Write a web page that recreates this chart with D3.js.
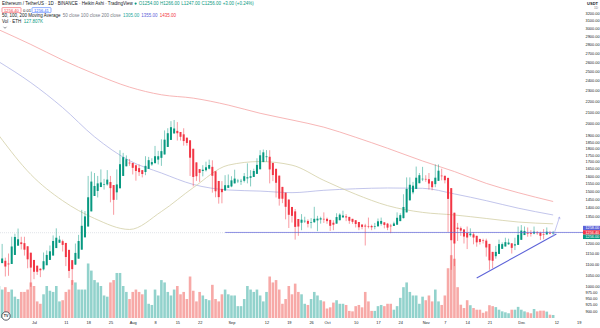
<!DOCTYPE html>
<html>
<head>
<meta charset="utf-8">
<script src="https://cdn.jsdelivr.net/npm/d3@7"></script>
<style>
  html, body { margin: 0; padding: 0; background: #ffffff; }
  svg { display: block; font-family: "Liberation Sans", Arial, sans-serif; }
</style>
</head>
<body>
<svg id="chart" width="600" height="328"></svg>
<script>
// ETH/USDT daily Heikin Ashi bars, 2022-06-20 .. 2022-12-11
const firstDay = "2022-06-20";
const lastDay = "2022-12-11";

const haOpen = [
  1081,1104,1115,1102,1100,1143,1189,1206,1202,1186,1154,
  1119,1092,1078,1075,1094,1119,1140,1177,1204,1212,1203,1168,1118,1097,1125,1169,1232,1290,1376,1469,1501,1526,1541,1543,1559,1539,1492,1518,1600,1667,1693,
  1691,1674,1654,1640,1627,1649,1680,1689,1715,1728,1753,1810,1865,1917,1938,1929,1910,1883,1862,1796,1695,1647,1634,1639,1650,1663,1632,1566,1514,1504,1521,
  1530,1550,1566,1567,1567,1583,1587,1593,1614,1646,1697,1733,1736,1691,1649,1602,1527,1490,1447,1402,1376,1332,1311,1320,1321,1313,1314,1324,1329,1333,
  1333,1327,1311,1306,1325,1341,1347,1344,1333,1325,1315,1301,1295,1293,1293,1290,1291,1305,1313,1306,1295,1293,1300,1320,1337,1370,1442,1492,1514,1551,1578,
  1580,1578,1564,1545,1567,1602,1601,1586,1519,1368,1284,1281,1274,1255,1243,1248,1240,1223,1216,1215,1198,1158,1137,1148,1173,1185,1196,1201,1190,1193,
  1219,1244,1255,1254,1252,1257,1256,1248,1247,1255,1254
];
const haHigh = [
  1160,1198,1130,1150,1235,1251,1279,1235,1235,1186,1154,
  1119,1092,1080,1155,1165,1190,1242,1280,1240,1220,1203,1168,1118,1200,1245,1385,1378,1600,1630,1620,1600,1645,1580,1640,1600,1539,1645,1785,1765,1746,1720,
  1691,1680,1680,1640,1740,1735,1725,1818,1780,1870,1942,1960,2020,2030,2012,1929,1960,1883,1862,1796,1695,1647,1675,1700,1715,1710,1632,1566,1565,1605,1610,
  1598,1643,1580,1580,1620,1688,1640,1650,1725,1785,1790,1786,1785,1691,1650,1602,1527,1490,1447,1402,1390,1332,1360,1345,1330,1337,1403,1350,1345,1370,
  1340,1327,1325,1365,1365,1380,1360,1344,1333,1325,1315,1301,1305,1340,1300,1310,1335,1340,1315,1310,1305,1317,1370,1365,1480,1590,1590,1560,1665,1620,1663,
  1605,1620,1564,1680,1680,1650,1601,1590,1519,1368,1310,1290,1274,1290,1280,1260,1240,1225,1225,1225,1198,1158,1188,1220,1206,1230,1225,1201,1230,1290,
  1298,1290,1285,1270,1290,1266,1262,1276,1285,1266,1266
];
const haLow = [
  1075,1104,1043,1046,1100,1143,1189,1170,1140,1080,998,
  1031,1050,1040,1070,1094,1119,1140,1177,1204,1160,1090,1036,1006,1095,1125,1169,1232,1290,1376,1469,1460,1526,1510,1535,1430,1356,1445,1518,1600,1667,1670,
  1610,1568,1600,1590,1605,1649,1670,1689,1680,1670,1753,1810,1865,1917,1860,1860,1820,1820,1600,1530,1566,1560,1597,1630,1645,1490,1461,1422,1424,1500,1520,
  1525,1550,1552,1540,1556,1550,1530,1593,1614,1646,1697,1700,1550,1565,1460,1410,1425,1330,1282,1312,1220,1240,1270,1310,1285,1280,1310,1265,1306,1310,
  1305,1266,1270,1306,1325,1340,1320,1305,1305,1285,1270,1275,1190,1280,1270,1275,1291,1295,1280,1270,1254,1293,1300,1320,1335,1370,1442,1480,1514,1551,1565,
  1560,1510,1505,1525,1567,1570,1550,1261,1073,1090,1213,1240,1200,1172,1235,1196,1184,1195,1200,1135,1073,1080,1125,1148,1173,1185,1193,1150,1167,1193,
  1219,1244,1235,1236,1248,1245,1218,1222,1247,1248,1247
];
const haClose = [
  1126,1126,1088,1098,1185,1234,1222,1197,1169,1122,1083,
  1064,1064,1071,1113,1143,1161,1213,1230,1220,1193,1133,1068,1076,1153,1213,1294,1347,1461,1562,1533,1550,1556,1544,1575,1519,1445,1543,1682,1733,1718,1688,
  1656,1634,1626,1613,1670,1711,1697,1740,1740,1778,1867,1919,1969,1958,1919,1890,1856,1841,1729,1593,1598,1621,1643,1660,1676,1601,1499,1462,1493,1538,1538,
  1570,1582,1568,1567,1598,1591,1598,1634,1677,1747,1769,1739,1645,1606,1554,1452,1452,1403,1356,1350,1288,1290,1328,1322,1305,1315,1333,1334,1336,1332,
  1320,1294,1300,1343,1357,1352,1341,1322,1316,1304,1286,1288,1290,1292,1286,1291,1319,1321,1299,1284,1291,1307,1339,1354,1402,1514,1541,1535,1588,1605,1581,
  1576,1549,1525,1588,1636,1600,1571,1451,1217,1200,1277,1268,1236,1231,1252,1231,1206,1208,1214,1180,1117,1115,1158,1197,1197,1207,1205,1178,1196,1245,
  1268,1266,1252,1250,1262,1254,1240,1246,1262,1253,1256
];
// daily volume, thousands of ETH
const volume = [
  1350,1200,1300,1100,1200,900,800,1100,1100,1200,1500,
  1350,700,600,1000,1350,1150,1100,1350,700,750,1100,1200,1600,1500,1200,1200,1200,2300,2000,1600,1500,1350,950,900,1500,1600,1900,1900,1350,1100,800,
  1100,1200,1100,1000,1200,600,550,1200,950,1600,1500,1100,950,1200,1350,1000,1100,800,1750,1150,700,1100,950,800,750,1400,800,700,1000,1200,1000,
  950,950,500,500,800,1350,1200,1100,1200,950,700,1100,1750,1500,1600,1200,600,800,1350,1000,1450,1100,1000,600,550,800,1100,950,750,700,
  400,450,650,750,600,600,550,300,280,500,550,450,1100,700,300,300,500,550,500,600,600,350,500,850,1300,1500,1100,950,950,600,900,
  750,950,700,1200,700,550,950,2100,2650,2500,1300,560,420,750,540,420,350,350,220,280,540,500,460,350,280,240,200,350,350,470,
  350,280,240,200,380,280,310,310,270,140,127.807
];

// 50 / 100 / 200 day moving averages, sampled
const maDates = ["2022-06-20","2022-06-30","2022-07-10","2022-07-20","2022-07-31","2022-08-10","2022-08-20","2022-08-31","2022-09-10",
                 "2022-09-20","2022-09-30","2022-10-10","2022-10-20","2022-10-31","2022-11-10","2022-11-20","2022-11-30","2022-12-11"];
const ma50  = [1900,1610,1440,1335,1274,1375,1522,1675,1701,1675,1570,1480,1410,1370,1355,1335,1315,1305];
const ma100 = [2600,2380,2140,1890,1707,1620,1543,1507,1500,1490,1505,1515,1520,1518,1482,1440,1395,1355];
const ma200 = [2980,2800,2620,2470,2335,2260,2228,2163,2089,2030,1969,1886,1800,1705,1630,1550,1490,1435];

// drawings: horizontal ray, rising support line, projection arrow
const rayStart = "2022-08-30", rayPrice = 1258;
const supportLine = [["2022-11-17", 1036], ["2022-12-12", 1250]];
const projection = [["2022-12-11", 1236], ["2022-12-13", 1343]];
const lastTradePrice = 1256.4;

const priceTicks = [3200,3100,3000,2900,2800,2700,2600,2500,2400,2300,2200,2100,2000,1900,1850,1800,1750,1700,1650,1600,
                    1550,1500,1450,1400,1350,1300,1250,1200,1150,1100,1050,1000,975,950,925,900];
const timeTicks = [["2022-07-01","Jul"],["2022-07-11","11"],["2022-07-18","18"],["2022-07-25","25"],["2022-08-01","Aug"],
                   ["2022-08-08","8"],["2022-08-15","15"],["2022-08-22","22"],["2022-09-01","Sep"],["2022-09-12","12"],
                   ["2022-09-19","19"],["2022-09-26","26"],["2022-10-01","Oct"],["2022-10-10","10"],["2022-10-17","17"],
                   ["2022-10-24","24"],["2022-11-01","Nov"],["2022-11-07","7"],["2022-11-14","14"],["2022-11-21","21"],
                   ["2022-12-01","Dec"],["2022-12-12","12"],["2022-12-19","19"]];

// ---------- layout ----------
const W = 600, H = 328;
const plotR = 583, plotB = 318;
const UP = "#089981", DOWN = "#f23645";
const UPV = "#92d2cc", DOWNV = "#f7a9a7";
const DRAW = "#5d63d8";
const parse = d3.utcParse("%Y-%m-%d");
const dayMs = 864e5;

const days = d3.utcDay.range(parse(firstDay), d3.utcDay.offset(parse(lastDay), 1));
const bars = days.map((d, i) => ({
  date: d, o: haOpen[i], h: haHigh[i], l: haLow[i], c: haClose[i], v: volume[i]
}));

// time scale: 1 Jul at x=34, 3.185 px per day
const pxDay = 3.185, jul1 = parse("2022-07-01").getTime();
const x = d3.scaleUtc()
  .domain([new Date(jul1 - 34 / pxDay * dayMs), new Date(jul1 + (plotR - 34) / pxDay * dayMs)])
  .range([0, plotR]);
const y = d3.scaleLog().domain([874, 3383]).range([plotB, 0]);
const yv = d3.scaleLinear().domain([0, 2700]).range([plotB, plotB - 64]);

const svg = d3.select("#chart");
svg.append("rect").attr("width", W).attr("height", H).attr("fill", "#ffffff");

svg.append("defs").append("clipPath").attr("id", "plot")
  .append("rect").attr("x", 0).attr("y", 0).attr("width", plotR).attr("height", plotB);
const plot = svg.append("g").attr("clip-path", "url(#plot)");

// volume
plot.append("g").selectAll("rect").data(bars).join("rect")
  .attr("x", d => x(d.date) - 1.3)
  .attr("width", 2.6)
  .attr("y", d => yv(d.v))
  .attr("height", d => plotB - yv(d.v))
  .attr("fill", d => d.c >= d.o ? UPV : DOWNV);

// moving averages
const maLine = vals => d3.line()
  .x((d, i) => x(parse(maDates[i])))
  .y(d => y(d))
  .curve(d3.curveMonotoneX)(vals);
[[ma200, "#f5a3a3"], [ma100, "#b3b6e6"], [ma50, "#d3cfa6"]].forEach(([vals, col]) => {
  plot.append("path").attr("d", maLine(vals)).attr("fill", "none")
    .attr("stroke", col).attr("stroke-width", 0.8);
});

// last price line
const last = bars[bars.length - 1];
plot.append("line").attr("x1", 0).attr("x2", plotR)
  .attr("y1", y(lastTradePrice)).attr("y2", y(lastTradePrice))
  .attr("stroke", "#c3c6d0").attr("stroke-width", 0.5).attr("stroke-dasharray", "1,1");

// candles
const cg = plot.append("g");
cg.selectAll("line").data(bars).join("line")
  .attr("x1", d => x(d.date)).attr("x2", d => x(d.date))
  .attr("y1", d => y(d.h)).attr("y2", d => y(d.l))
  .attr("stroke", d => d.c >= d.o ? UP : DOWN).attr("stroke-width", 0.5);
cg.selectAll("rect").data(bars).join("rect")
  .attr("x", d => x(d.date) - 1)
  .attr("width", 2)
  .attr("y", d => y(Math.max(d.o, d.c)))
  .attr("height", d => Math.max(0.6, Math.abs(y(d.o) - y(d.c))))
  .attr("fill", d => d.c >= d.o ? UP : DOWN);

// drawings
plot.append("line")
  .attr("x1", x(parse(rayStart))).attr("x2", plotR)
  .attr("y1", y(rayPrice)).attr("y2", y(rayPrice))
  .attr("stroke", DRAW).attr("stroke-width", 0.7);
plot.append("line")
  .attr("x1", x(parse(supportLine[0][0]))).attr("y1", y(supportLine[0][1]))
  .attr("x2", x(parse(supportLine[1][0]))).attr("y2", y(supportLine[1][1]))
  .attr("stroke", DRAW).attr("stroke-width", 1.1);
const p0 = [x(parse(projection[0][0])), y(projection[0][1])];
const p1 = [x(parse(projection[1][0])), y(projection[1][1])];
plot.append("line").attr("x1", p0[0]).attr("y1", p0[1]).attr("x2", p1[0]).attr("y2", p1[1])
  .attr("stroke", "#9a9ee6").attr("stroke-width", 0.6);
const ang = Math.atan2(p1[1] - p0[1], p1[0] - p0[0]);
const ah = 2.2;
plot.append("path")
  .attr("d", `M${p1[0] + ah * Math.cos(ang + 2.6)},${p1[1] + ah * Math.sin(ang + 2.6)}L${p1[0]},${p1[1]}L${p1[0] + ah * Math.cos(ang - 2.6)},${p1[1] + ah * Math.sin(ang - 2.6)}`)
  .attr("fill", "none").attr("stroke", "#9a9ee6").attr("stroke-width", 0.6);

// ---------- price axis ----------
const fmt = d3.format(".2f");
const tags = [
  { v: rayPrice, bg: DRAW, order: 0 },
  { v: lastTradePrice, bg: DOWN, order: 1 },
  { v: last.c, bg: UP, order: 2 }
];
// stack the tags downward from the topmost one so they never overlap
const tagTop = d3.min(tags, t => y(t.v)) - 4.4;
tags.forEach(t => { t.yy = tagTop + t.order * 4.4; });

const visibleTicks = priceTicks.filter(p => tags.every(t => Math.abs(y(p) - t.yy) > 4.6));
const yAxis = d3.axisRight(y).tickValues(visibleTicks).tickFormat(fmt).tickSize(0).tickPadding(2.5);
const ya = svg.append("g").attr("transform", `translate(${plotR},0)`).call(yAxis);
ya.select(".domain").remove();
ya.selectAll("text").attr("font-size", 3.9).attr("fill", "#131722")
  .attr("font-family", "Liberation Sans, Arial, sans-serif");

svg.append("text").attr("x", 598).attr("y", 4.5).attr("text-anchor", "end")
  .attr("font-size", 4).attr("font-weight", "bold").attr("fill", "#131722").text("USDT");
svg.append("text").attr("x", 598).attr("y", 9).attr("text-anchor", "end")
  .attr("font-size", 3.2).attr("fill", "#787b86").text("1D");

const tg = svg.append("g");
tags.forEach(t => {
  tg.append("rect").attr("x", plotR).attr("y", t.yy - 2.2).attr("width", W - plotR).attr("height", 4.4)
    .attr("fill", t.bg);
  tg.append("text").attr("x", plotR + 2.5).attr("y", t.yy + 1.4).attr("font-size", 3.8)
    .attr("fill", "#ffffff").text(fmt(t.v));
});

// ---------- time axis ----------
const xAxis = d3.axisBottom(x)
  .tickValues(timeTicks.map(t => parse(t[0])))
  .tickFormat((d, i) => timeTicks[i][1])
  .tickSize(0).tickPadding(3);
const xa = svg.append("g").attr("transform", `translate(0,${plotB})`).call(xAxis);
xa.select(".domain").remove();
xa.selectAll("text").attr("font-size", 3.9).attr("fill", "#131722")
  .attr("font-family", "Liberation Sans, Arial, sans-serif");

// logo
svg.append("circle").attr("cx", 6).attr("cy", 316).attr("r", 4.2)
  .attr("fill", "#ffffff").attr("stroke", "#131722").attr("stroke-width", 0.7);
svg.append("text").attr("x", 6).attr("y", 317.4).attr("text-anchor", "middle")
  .attr("font-size", 3.6).attr("font-weight", "bold").attr("fill", "#131722").text("TV");

// ---------- legend ----------
const FS = 4.5;
const leg = svg.append("g").attr("font-size", FS);
// lay out a row of text runs left to right
function row(yPos, x0, runs) {
  let cx = x0;
  runs.forEach(([txt, col, gap]) => {
    const t = leg.append("text").attr("x", cx).attr("y", yPos).attr("fill", col).text(txt);
    cx += t.node().getComputedTextLength() + (gap == null ? 2.2 : gap);
  });
  return cx;
}
const prev = bars[bars.length - 2];
const chg = last.c - prev.c;
const sign = chg >= 0 ? "+" : "";
const afterTitle = row(5.2, 2, [["Ethereum / TetherUS · 1D · BINANCE · Heikin Ashi · TradingView", "#131722", 6]]);
leg.append("circle").attr("cx", afterTitle - 3).attr("cy", 3.6).attr("r", 1.1).attr("fill", UP);
row(5.2, afterTitle, [
  [`O${fmt(last.o)}`, UP, 1.6], [`H${fmt(last.h)}`, UP, 1.6], [`L${fmt(last.l)}`, UP, 1.6],
  [`C${fmt(last.c)}`, UP, 1.6], [`${sign}${fmt(chg)} (${sign}${fmt(chg / prev.c * 100)}%)`, UP]
]);

leg.append("rect").attr("x", 2).attr("y", 7.6).attr("width", 19).attr("height", 5).attr("rx", 0.7)
  .attr("fill", "#ffffff").attr("stroke", DOWN).attr("stroke-width", 0.5);
leg.append("text").attr("x", 11.5).attr("y", 11.5).attr("text-anchor", "middle").attr("fill", DOWN)
  .attr("font-size", 4.1).text(fmt(lastTradePrice));
leg.append("text").attr("x", 23).attr("y", 11.5).attr("fill", "#131722").attr("font-size", 4.1).text("0.01");
leg.append("rect").attr("x", 32).attr("y", 7.6).attr("width", 19).attr("height", 5).attr("rx", 0.7)
  .attr("fill", "#ffffff").attr("stroke", "#2962ff").attr("stroke-width", 0.5);
leg.append("text").attr("x", 41.5).attr("y", 11.5).attr("text-anchor", "middle").attr("fill", "#2962ff")
  .attr("font-size", 4.1).text(fmt(lastTradePrice + 0.01));

row(17.4, 2, [
  ["50, 100, 200 Moving Average", "#131722", 2.4],
  ["50 close 100 close 200 close", "#787b86", 2.4],
  [fmt(ma50[ma50.length - 1]), "#26a69a", 2],
  [fmt(ma100[ma100.length - 1]), "#5d63d8", 2],
  [fmt(ma200[ma200.length - 1]), "#f23645"]
]);
row(23.2, 2, [["Vol · ETH", "#131722", 2.4], [d3.format(".3f")(last.v) + "K", UP]]);

leg.append("path").attr("d", "M3.5,26.8L5,28.3L6.5,26.8").attr("fill", "none")
  .attr("stroke", "#131722").attr("stroke-width", 0.5);
</script>
</body>
</html>
